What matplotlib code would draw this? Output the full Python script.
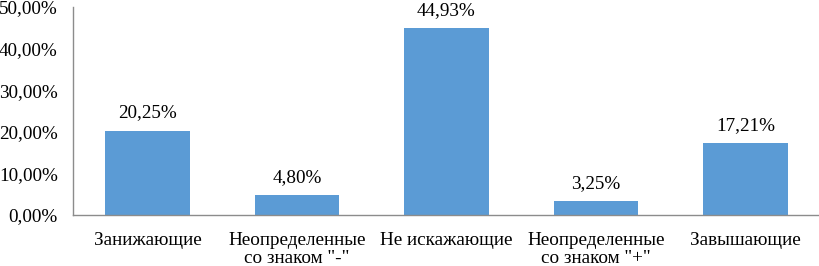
import matplotlib
matplotlib.use("Agg")
import matplotlib.pyplot as plt
from matplotlib.ticker import FuncFormatter

categories = ["Занижающие", "Неопределенные\nсо знаком \"-\"", "Не искажающие",
              "Неопределенные\nсо знаком \"+\"", "Завышающие"]
values = [20.25, 4.80, 44.93, 3.25, 17.21]

plt.rcParams['font.family'] = ['Liberation Serif', 'DejaVu Serif']
plt.rcParams['font.size'] = 13.8

fig = plt.figure(figsize=(8.2, 2.66), dpi=100)
ax = fig.add_axes([0.089, 0.192, 0.911, 0.782])

x = range(len(values))
bars = ax.bar(x, values, width=0.565, color="#5B9BD5")
for b, v in zip(bars, values):
    ax.text(b.get_x() + b.get_width() / 2, v + 2.2, f"{v:.2f}%".replace(".", ","),
            ha="center", va="bottom")

ax.set_xlim(-0.5, len(values) - 0.5)
ax.set_ylim(0, 50)
ax.set_yticks(range(0, 51, 10))
ax.yaxis.set_major_formatter(FuncFormatter(lambda v, p: f"{v:.2f}%".replace(".", ",")))
ax.set_xticks(list(x))
ax.set_xticklabels(categories, linespacing=1.1)
ax.tick_params(length=0)
ax.tick_params(axis='y', pad=11)
ax.tick_params(axis='x', pad=12)
for s in ["top", "right"]:
    ax.spines[s].set_visible(False)
for s in ["left", "bottom"]:
    ax.spines[s].set_color("#8c8c8c")
    ax.spines[s].set_linewidth(1.0)

fig.savefig("out.png", dpi=100)
